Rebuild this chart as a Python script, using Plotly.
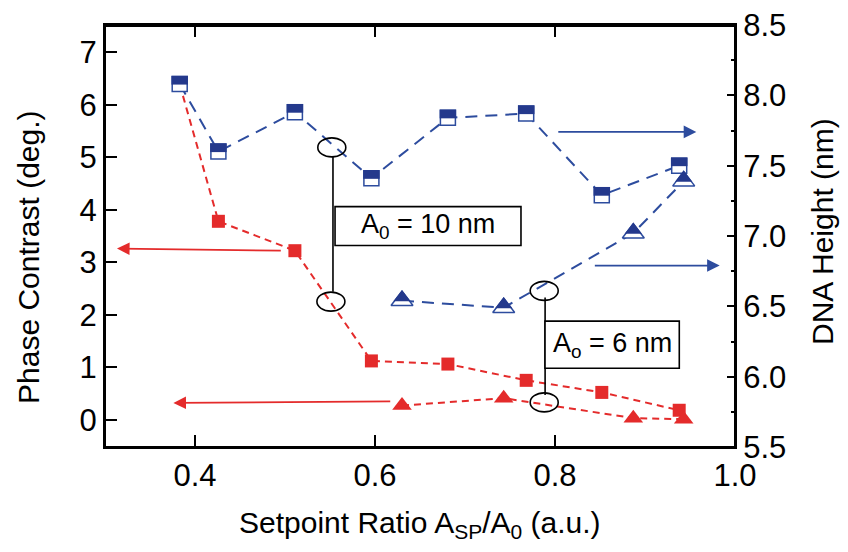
import plotly.graph_objects as go

# ---------------- data ----------------
setpoint_sq = [0.383, 0.426, 0.511, 0.596, 0.681, 0.768, 0.852, 0.938]
phase_10nm = [6.39, 3.78, 3.22, 1.12, 1.06, 0.75, 0.52, 0.18]
height_10nm = [8.08, 7.60, 7.88, 7.41, 7.84, 7.87, 7.29, 7.50]

setpoint_tri = [0.630, 0.743, 0.887, 0.943]
phase_6nm = [0.27, 0.41, 0.03, 0.01]
height_6nm = [6.54, 6.49, 7.02, 7.39]

x_ticks = [0.4, 0.6, 0.8, 1.0]
x_ticklabels = ["0.4", "0.6", "0.8", "1.0"]
y2_ticks = [5.5, 6.0, 6.5, 7.0, 7.5, 8.0, 8.5]
y2_ticklabels = ["5.5", "6.0", "6.5", "7.0", "7.5", "8.0", "8.5"]

RED = "#E42B2B"
BLUE_LINE = "#2D4C9E"
BLUE_DARK = "#24398C"
FONT = "Liberation Sans, Arial, sans-serif"

fig = go.Figure()

# red phase series (left axis)
fig.add_trace(go.Scatter(
    x=setpoint_sq, y=phase_10nm, mode="lines+markers",
    line=dict(color=RED, width=2, dash="7px,5px"),
    marker=dict(symbol="square", size=13, color=RED),
    yaxis="y", showlegend=False))
fig.add_trace(go.Scatter(
    x=setpoint_tri, y=phase_6nm, mode="lines+markers",
    line=dict(color=RED, width=2, dash="7px,5px"),
    marker=dict(symbol="triangle-up", size=17, color=RED),
    yaxis="y", showlegend=False))

# blue height series (right axis)
fig.add_trace(go.Scatter(
    x=setpoint_sq, y=height_10nm, mode="lines+markers",
    line=dict(color=BLUE_LINE, width=2, dash="12px,8px"),
    marker=dict(symbol="square", size=15, color="white",
                line=dict(color=BLUE_LINE, width=1.5)),
    yaxis="y2", showlegend=False))
fig.add_trace(go.Scatter(
    x=setpoint_tri, y=height_6nm, mode="lines+markers",
    line=dict(color=BLUE_LINE, width=2, dash="12px,8px"),
    marker=dict(symbol="triangle-up", size=19, color="white",
                line=dict(color=BLUE_LINE, width=1.5)),
    yaxis="y2", showlegend=False))

shapes = []
# plot frame (top edge of the box)
shapes.append(dict(type="rect", xref="paper", yref="paper", x0=0, x1=1, y0=0, y1=1,
                   line=dict(color="black", width=2), fillcolor="rgba(0,0,0,0)", layer="below"))
shapes.append(dict(type="line", xref="paper", yref="paper", x0=0, x1=1, y0=0.998, y1=0.998,
                   line=dict(color="black", width=2.5), layer="above"))

# half-filled tops of the blue markers
for xv, yv in zip(setpoint_sq, height_10nm):
    shapes.append(dict(type="rect", xref="x", yref="y2",
                       xsizemode="pixel", ysizemode="pixel",
                       xanchor=xv, yanchor=yv,
                       x0=-8.25, x1=8.25, y0=-0.5, y1=8.25,
                       fillcolor=BLUE_DARK, line=dict(width=0), layer="above"))
for xv, yv in zip(setpoint_tri, height_6nm):
    shapes.append(dict(type="path", xref="x", yref="y2",
                       xsizemode="pixel", ysizemode="pixel",
                       xanchor=xv, yanchor=yv,
                       path="M0,10.8 L8.6,-0.5 L-8.6,-0.5 Z",
                       fillcolor=BLUE_DARK, line=dict(width=0), layer="above"))

# mirrored x ticks on the top edge
for xv in x_ticks[:-1]:
    shapes.append(dict(type="line", xref="x", yref="y2", ysizemode="pixel", yanchor=8.5,
                       x0=xv, x1=xv, y0=0, y1=-12,
                       line=dict(color="black", width=2), layer="above"))

# ellipses
ellipses = [(0.552, 7.63, "y2"), (0.551, 2.25, "y"), (0.788, 6.61, "y2"), (0.788, 0.33, "y")]
for ex, ey, yr in ellipses:
    shapes.append(dict(type="circle", xref="x", yref=yr,
                       xsizemode="pixel", ysizemode="pixel",
                       xanchor=ex, yanchor=ey,
                       x0=-14, x1=14, y0=-9.5, y1=9.5,
                       line=dict(color="black", width=1.6), layer="above"))
# connector lines
shapes.append(dict(type="line", xref="x", yref="y", x0=0.5533, x1=0.5533, y0=5.01, y1=2.44,
                   line=dict(color="black", width=1.6)))
shapes.append(dict(type="line", xref="x", yref="y", x0=0.789, x1=0.789, y0=2.33, y1=0.47,
                   line=dict(color="black", width=1.6)))
# boxes
shapes.append(dict(type="rect", xref="x", yref="y", x0=0.5556, x1=0.7622, y0=3.32, y1=4.06,
                   line=dict(color="black", width=1.6), fillcolor="white", layer="above"))
shapes.append(dict(type="rect", xref="x", yref="y", x0=0.7889, x1=0.9381, y0=0.979, y1=1.878,
                   line=dict(color="black", width=1.6), fillcolor="white", layer="above"))

annotations = [
    dict(x=0.6589, y=3.69, xref="x", yref="y", text="A<sub>0</sub> = 10 nm",
         xanchor="center", yanchor="middle",
         showarrow=False, font=dict(size=27, color="black", family=FONT)),
    dict(x=0.8635, y=1.43, xref="x", yref="y", text="A<sub>o</sub> = 6 nm",
         xanchor="center", yanchor="middle",
         showarrow=False, font=dict(size=27, color="black", family=FONT)),
    # arrows
    dict(x=0.3133, y=3.26, xref="x", yref="y", ax=0.497, ay=3.22, axref="x", ayref="y",
         text="", showarrow=True, arrowhead=2, arrowsize=1.4, arrowwidth=1.8, arrowcolor=RED),
    dict(x=0.376, y=0.32, xref="x", yref="y", ax=0.6186, ay=0.35, axref="x", ayref="y",
         text="", showarrow=True, arrowhead=2, arrowsize=1.4, arrowwidth=1.8, arrowcolor=RED),
    dict(x=0.957, y=7.74, xref="x", yref="y2", ax=0.802, ay=7.74, axref="x", ayref="y2",
         text="", showarrow=True, arrowhead=2, arrowsize=1.4, arrowwidth=1.8, arrowcolor=BLUE_LINE),
    dict(x=0.983, y=6.79, xref="x", yref="y2", ax=0.8426, ay=6.79, axref="x", ayref="y2",
         text="", showarrow=True, arrowhead=2, arrowsize=1.4, arrowwidth=1.8, arrowcolor=BLUE_LINE),
    # axis titles
    dict(x=-0.1206, y=0.448, xref="paper", yref="paper", text="Phase Contrast (deg.)",
         xanchor="center", yanchor="middle",
         textangle=-90, showarrow=False, font=dict(size=30, color="black", family=FONT)),
    dict(x=1.1397, y=0.5095, xref="paper", yref="paper", text="DNA Height (nm)",
         xanchor="center", yanchor="middle",
         textangle=-90, showarrow=False, font=dict(size=30, color="black", family=FONT)),
    dict(x=0.5, y=-0.184, xref="paper", yref="paper",
         text="Setpoint Ratio A<sub>SP</sub>/A<sub>0</sub> (a.u.)",
         xanchor="center", yanchor="middle",
         showarrow=False, font=dict(size=30, color="black", family=FONT)),
]

axis_common = dict(showgrid=False, zeroline=False, showline=True, linecolor="black",
                   linewidth=2, ticks="inside", tickcolor="black", tickwidth=2,
                   automargin=False,
                   tickfont=dict(size=31, color="black", family=FONT))

fig.update_layout(
    template="none",
    width=848, height=552, autosize=False,
    margin=dict(l=105, r=113, t=25, b=105, pad=0),
    paper_bgcolor="white", plot_bgcolor="white",
    font=dict(family=FONT, color="black"),
    xaxis=dict(range=[0.3, 1.0], tickvals=x_ticks, ticktext=x_ticklabels,
               ticklen=12, mirror="ticks", **axis_common),
    yaxis=dict(range=[-0.52, 7.52], dtick=1, tick0=0, ticklen=12, **axis_common),
    yaxis2=dict(range=[5.5, 8.5], tickvals=y2_ticks, ticktext=y2_ticklabels, ticklen=8,
                overlaying="y", side="right",
                minor=dict(ticks="inside", ticklen=4, dtick=0.25, tick0=5.5,
                           tickcolor="black", tickwidth=2),
                **axis_common),
    shapes=shapes,
    annotations=annotations,
)

fig.write_html(
    "out.html",
    config={"displayModeBar": False},
    post_script="document.body.style.margin='0';document.body.style.overflow='hidden';",
)
